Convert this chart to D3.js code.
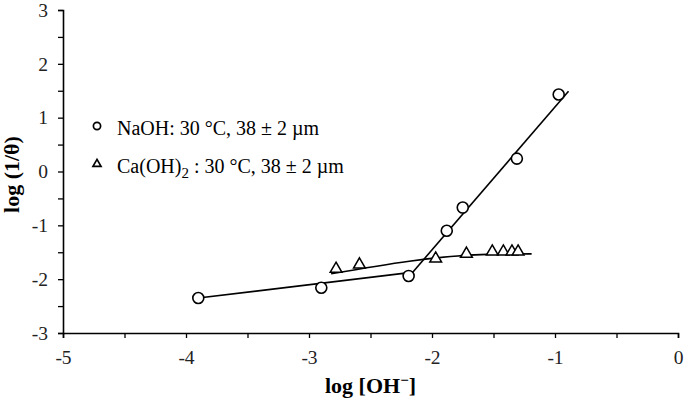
<!DOCTYPE html>
<html>
<head>
<meta charset="utf-8">
<script src="https://cdn.jsdelivr.net/npm/d3@7"></script>
<style>
  body { margin: 0; background: #fff; }
  text { font-family: "Liberation Serif", "Times New Roman", serif; }
</style>
</head>
<body>
<svg id="chart"></svg>
<script>
var width = 685, height = 402;
var margin = {top: 10, right: 7, bottom: 69, left: 63};

// NaOH data (circles)
var naohX = [-3.90, -2.90, -2.19, -1.88, -1.75, -1.31, -0.97];
var naohY = [-2.35, -2.16, -1.94, -1.10, -0.67, 0.24, 1.43];
// Ca(OH)2 data (triangles)
var caX = [-2.78, -2.59, -1.97, -1.72, -1.51, -1.42, -1.35, -1.30];
var caY = [-1.81, -1.73, -1.62, -1.53, -1.49, -1.49, -1.49, -1.49];

// fitted lines
var naohLowX = [-3.90, -2.15], naohLowY = [-2.35, -1.87];
var naohHighX = [-2.16, -0.89], naohHighY = [-1.88, 1.49];
var caFitX = [-2.82, -1.55, -1.19], caFitY = [-1.90, -1.54, -1.53];

var xTicks = [-5, -4, -3, -2, -1, 0];
var yTicks = [-3, -2, -1, 0, 1, 2, 3];

var svg = d3.select('#chart')
    .attr('width', width)
    .attr('height', height);

var w = width - margin.left - margin.right;
var h = height - margin.top - margin.bottom;

var g = svg.append('g')
    .attr('transform', 'translate(' + margin.left + ',' + margin.top + ')');

var x = d3.scaleLinear().domain([-5, 0]).range([0, w]);
var y = d3.scaleLinear().domain([-3, 3]).range([h, 0]);

var fmt = function(d) { return String(d); };   // plain hyphen minus like the original

// axes: major ticks with labels, minor ticks at halves
g.append('g')
    .attr('transform', 'translate(0,' + h + ')')
    .call(d3.axisBottom(x).tickValues(xTicks).tickSize(5).tickPadding(12).tickFormat(fmt));
g.append('g')
    .attr('transform', 'translate(0,' + h + ')')
    .call(d3.axisBottom(x).tickValues(d3.range(-4.5, 0, 1)).tickSize(5).tickFormat(''))
    .select('.domain').remove();

g.append('g')
    .call(d3.axisLeft(y).tickValues(yTicks).tickSize(5).tickPadding(10).tickFormat(fmt));
g.append('g')
    .call(d3.axisLeft(y).tickValues(d3.range(-2.5, 3, 1)).tickSize(5).tickFormat(''))
    .select('.domain').remove();

g.selectAll('.domain').attr('stroke', '#000').attr('stroke-width', 1.6);
g.selectAll('.tick line').attr('stroke', '#000').attr('stroke-width', 1.3);
g.selectAll('.tick text')
    .attr('font-size', 19.5)
    .attr('fill', '#222')
    .style('font-family', '"Liberation Serif", serif');

// fit lines
var line = d3.line()
    .x(function(d) { return x(d[0]); })
    .y(function(d) { return y(d[1]); });

function pairs(xs, ys) {
    return xs.map(function(v, i) { return [v, ys[i]]; });
}

g.append('path')
    .attr('d', line(pairs(naohLowX, naohLowY)))
    .attr('fill', 'none').attr('stroke', '#000').attr('stroke-width', 1.6);
g.append('path')
    .attr('d', line(pairs(naohHighX, naohHighY)))
    .attr('fill', 'none').attr('stroke', '#000').attr('stroke-width', 1.6);
g.append('path')
    .attr('d', line.curve(d3.curveMonotoneX)(pairs(caFitX, caFitY)))
    .attr('fill', 'none').attr('stroke', '#000').attr('stroke-width', 1.6);

// markers
g.selectAll('circle.naoh')
    .data(pairs(naohX, naohY))
    .enter().append('circle')
    .attr('class', 'naoh')
    .attr('cx', function(d) { return x(d[0]); })
    .attr('cy', function(d) { return y(d[1]); })
    .attr('r', 5.5)
    .attr('fill', '#fff')
    .attr('stroke', '#000')
    .attr('stroke-width', 1.6);

var tri = d3.symbol().type(d3.symbolTriangle).size(60);
g.selectAll('path.ca')
    .data(pairs(caX, caY))
    .enter().append('path')
    .attr('class', 'ca')
    .attr('d', tri)
    .attr('transform', function(d) { return 'translate(' + x(d[0]) + ',' + y(d[1]) + ')'; })
    .attr('fill', '#fff')
    .attr('stroke', '#000')
    .attr('stroke-width', 1.5);

// legend
var legend = svg.append('g');
legend.append('circle')
    .attr('cx', 97).attr('cy', 126).attr('r', 3.6)
    .attr('fill', 'none').attr('stroke', '#000').attr('stroke-width', 1.7);
legend.append('text')
    .attr('x', 117).attr('y', 135)
    .attr('font-size', 20)
    .text('NaOH: 30 °C, 38 ± 2 µm');

legend.append('path')
    .attr('d', d3.symbol().type(d3.symbolTriangle).size(28)())
    .attr('transform', 'translate(97,164)')
    .attr('fill', 'none').attr('stroke', '#000').attr('stroke-width', 1.7);
var t2 = legend.append('text')
    .attr('x', 117).attr('y', 173)
    .attr('font-size', 20);
t2.append('tspan').text('Ca(OH)');
t2.append('tspan').attr('dy', 5).attr('font-size', 15).text('2');
t2.append('tspan').attr('dy', -5).text(' : 30 °C, 38 ± 2 µm');

// axis titles
svg.append('text')
    .attr('transform', 'translate(19,' + (margin.top + y(0) + 3) + ') rotate(-90)')
    .attr('text-anchor', 'middle')
    .attr('font-size', 22)
    .attr('font-weight', 'bold')
    .text('log (1/θ)');

var xt = svg.append('text')
    .attr('x', margin.left + x(-2.5))
    .attr('y', 393)
    .attr('text-anchor', 'middle')
    .attr('font-size', 22)
    .attr('font-weight', 'bold');
xt.append('tspan').text('log [OH');
xt.append('tspan').attr('dy', -8).attr('font-size', 15).text('−');
xt.append('tspan').attr('dy', 8).text(']');
</script>
</body>
</html>
